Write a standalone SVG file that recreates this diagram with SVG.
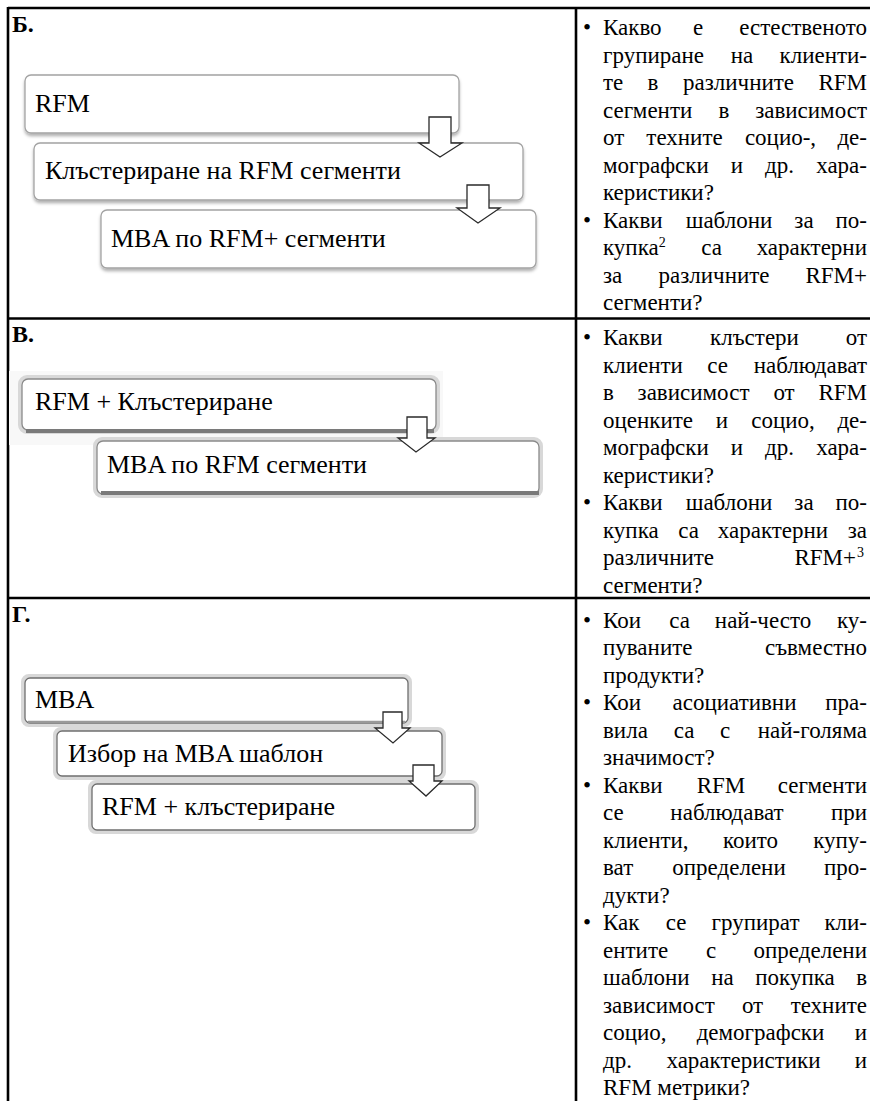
<svg xmlns="http://www.w3.org/2000/svg" width="870" height="1101" viewBox="0 0 870 1101">
<defs>
<style>
.t{font-family:"Liberation Serif","DejaVu Serif",serif;font-size:23px;fill:#000}
.e{text-anchor:end}
.m{text-anchor:middle}
.sup{font-size:14px}
.lbl{font-family:"Liberation Serif","DejaVu Serif",serif;font-size:24px;font-weight:bold;fill:#000}
.bt{font-family:"Liberation Serif","DejaVu Serif",serif;font-size:26px;fill:#000}
.box{fill:#fff;stroke:#a3a3a3;stroke-width:1.3}
.halo{fill:none;stroke:#d8d8d8;stroke-width:4}
.base{stroke:#7a7a7a;stroke-width:4;fill:none}
.grid{stroke:#000;stroke-width:2.6;fill:none}
.arr{fill:#fff;stroke:#2a2a2a;stroke-width:1.3;stroke-linejoin:miter}
</style>
<filter id="sh" x="-5%" y="-20%" width="110%" height="150%">
<feDropShadow dx="0" dy="2.5" stdDeviation="1.6" flood-color="#000" flood-opacity="0.3"/>
</filter>
</defs>
<rect width="870" height="1101" fill="#fff"/>

<g id="table">
<line class="grid" x1="8" y1="8" x2="870" y2="8"/>
<line class="grid" x1="8" y1="7" x2="8" y2="1101"/>
<line class="grid" x1="576" y1="8" x2="576" y2="1101"/>
<line class="grid" x1="8" y1="318.5" x2="870" y2="318.5"/>
<line class="grid" x1="8" y1="598" x2="870" y2="598"/>
<text class="lbl" x="12" y="32">Б.</text>
<text class="lbl" x="12" y="341.5">В.</text>
<text class="lbl" x="12" y="622">Г.</text>
</g>

<g id="section-b">
<g id="b1"><rect class="box" filter="url(#sh)" x="25" y="75" width="434" height="58" rx="6"/><text class="bt" x="35" y="112">RFM</text></g>
<g id="b2"><rect class="box" filter="url(#sh)" x="34" y="143" width="489" height="57" rx="6"/><text class="bt" x="45" y="179">Клъстериране на RFM сегменти</text></g>
<g id="b3"><rect class="box" filter="url(#sh)" x="101" y="210" width="435" height="58" rx="6"/><text class="bt" x="111" y="247">MBA по RFM+ сегменти</text></g>
</g>

<g id="section-v">
<rect x="9" y="371" width="434" height="74" fill="#f8f8f8"/>
<g id="v1"><rect class="halo" x="20" y="377" width="418" height="55" rx="7"/><rect class="box" x="22" y="379" width="414" height="51" rx="6" style="stroke:#8a8a8a"/><line class="base" x1="26" y1="431" x2="434" y2="431"/><text class="bt" x="35" y="410">RFM + Клъстериране</text></g>
<g id="v2"><rect class="halo" x="95" y="439" width="446" height="57" rx="7"/><rect class="box" x="97" y="441" width="442" height="53" rx="6" style="stroke:#8a8a8a"/><line class="base" x1="101" y1="493" x2="539" y2="493"/><text class="bt" x="107" y="473">MBA по RFM сегменти</text></g>
</g>

<g id="section-g">
<g id="g1"><rect class="halo" x="23" y="676" width="387" height="49" rx="6"/><rect class="box" x="25" y="678" width="383" height="45" rx="5" style="stroke:#6f6f6f"/><line class="base" x1="28" y1="722" x2="405" y2="722" style="stroke-width:2.5;stroke:#999"/><text class="bt" x="35" y="708">MBA</text></g>
<g id="g2"><rect class="halo" x="55" y="729" width="389" height="49" rx="6"/><rect class="box" x="57" y="731" width="385" height="45" rx="5" style="stroke:#6f6f6f"/><text class="bt" x="68" y="762">Избор на MBA шаблон</text></g>
<g id="g3"><rect class="halo" x="90" y="782" width="387" height="50" rx="6"/><rect class="box" x="92" y="784" width="383" height="46" rx="5" style="stroke:#6f6f6f"/><text class="bt" x="102" y="815">RFM + клъстериране</text></g>
</g>

<g id="connectors">
<path class="arr" d="M429,117 H451 V143 H462 L440,157 L419,143 H429 Z"/>
<path class="arr" d="M467,185 H489 V208 H500 L478,223 L457,208 H467 Z"/>
<path class="arr" d="M407,417 H427 V438 H435 L416,452 L398,438 H407 Z"/>
<path class="arr" d="M383,712 H402 V728 H410 L393,743 L375,728 H383 Z"/>
<path class="arr" d="M413,765 H434 V781 H442 L426,796 L409,781 H413 Z"/>
</g>

<g id="questions-b">
<text class="t m" x="587" y="35">•</text>
<text class="t" x="603" y="35">Какво</text><text class="t m" x="698" y="35">е</text><text class="t e" x="867" y="35">естественото</text>
<text class="t" x="603" y="62.5">групиране</text><text class="t m" x="742" y="62.5">на</text><text class="t e" x="867" y="62.5">клиенти-</text>
<text class="t" x="603" y="90">те</text><text class="t m" x="653" y="90">в</text><text class="t m" x="738.5" y="90">различните</text><text class="t e" x="867" y="90">RFM</text>
<text class="t" x="603" y="117.5">сегменти</text><text class="t m" x="724" y="117.5">в</text><text class="t e" x="867" y="117.5">зависимост</text>
<text class="t" x="603" y="145">от</text><text class="t m" x="684.5" y="145">техните</text><text class="t m" x="780.5" y="145">социо-,</text><text class="t e" x="867" y="145">де-</text>
<text class="t" x="603" y="172.5">мографски</text><text class="t m" x="737" y="172.5">и</text><text class="t m" x="779.5" y="172.5">др.</text><text class="t e" x="867" y="172.5">хара-</text>
<text class="t" x="603" y="200">керистики?</text>
<text class="t m" x="587" y="227.5">•</text>
<text class="t" x="603" y="227.5">Какви</text><text class="t m" x="729" y="227.5">шаблони</text><text class="t m" x="804" y="227.5">за</text><text class="t e" x="867" y="227.5">по-</text>
<text class="t" x="603" y="255">купка<tspan class="sup" dy="-8">2</tspan></text><text class="t m" x="711.5" y="255">са</text><text class="t e" x="867" y="255">характерни</text>
<text class="t" x="603" y="282.5">за</text><text class="t m" x="714" y="282.5">различните</text><text class="t e" x="867" y="282.5">RFM+</text>
<text class="t" x="603" y="310">сегменти?</text>
</g>

<g id="questions-v">
<text class="t m" x="587" y="345">•</text>
<text class="t" x="603" y="345">Какви</text><text class="t m" x="754.5" y="345">клъстери</text><text class="t e" x="867" y="345">от</text>
<text class="t" x="603" y="372.5">клиенти</text><text class="t m" x="717.5" y="372.5">се</text><text class="t e" x="867" y="372.5">наблюдават</text>
<text class="t" x="603" y="400">в</text><text class="t m" x="693.5" y="400">зависимост</text><text class="t m" x="784" y="400">от</text><text class="t e" x="867" y="400">RFM</text>
<text class="t" x="603" y="427.5">оценките</text><text class="t m" x="722" y="427.5">и</text><text class="t m" x="783" y="427.5">социо,</text><text class="t e" x="867" y="427.5">де-</text>
<text class="t" x="603" y="455">мографски</text><text class="t m" x="737" y="455">и</text><text class="t m" x="779.5" y="455">др.</text><text class="t e" x="867" y="455">хара-</text>
<text class="t" x="603" y="482.5">керистики?</text>
<text class="t m" x="587" y="510">•</text>
<text class="t" x="603" y="510">Какви</text><text class="t m" x="729" y="510">шаблони</text><text class="t m" x="804" y="510">за</text><text class="t e" x="867" y="510">по-</text>
<text class="t" x="603" y="537.5">купка</text><text class="t m" x="688.5" y="537.5">са</text><text class="t m" x="773" y="537.5">характерни</text><text class="t e" x="867" y="537.5">за</text>
<text class="t" x="603" y="565">различните</text><text class="t e" x="856" y="565">RFM+</text><text class="t sup" x="857" y="557">3</text>
<text class="t" x="603" y="592.5">сегменти?</text>
</g>

<g id="questions-g">
<text class="t m" x="587" y="627.5">•</text>
<text class="t" x="603" y="627.5">Кои</text><text class="t m" x="679.5" y="627.5">са</text><text class="t m" x="763" y="627.5">най-често</text><text class="t e" x="867" y="627.5">ку-</text>
<text class="t" x="603" y="655">пуваните</text><text class="t e" x="867" y="655">съвместно</text>
<text class="t" x="603" y="682.5">продукти?</text>
<text class="t m" x="587" y="710">•</text>
<text class="t" x="603" y="710">Кои</text><text class="t m" x="734.5" y="710">асоциативни</text><text class="t e" x="867" y="710">пра-</text>
<text class="t" x="603" y="737.5">вила</text><text class="t m" x="684" y="737.5">са</text><text class="t m" x="725" y="737.5">с</text><text class="t e" x="867" y="737.5">най-голяма</text>
<text class="t" x="603" y="765">значимост?</text>
<text class="t m" x="587" y="792.5">•</text>
<text class="t" x="603" y="792.5">Какви</text><text class="t m" x="721" y="792.5">RFM</text><text class="t e" x="867" y="792.5">сегменти</text>
<text class="t" x="603" y="820">се</text><text class="t m" x="727" y="820">наблюдават</text><text class="t e" x="867" y="820">при</text>
<text class="t" x="603" y="847.5">клиенти,</text><text class="t m" x="750.5" y="847.5">които</text><text class="t e" x="867" y="847.5">купу-</text>
<text class="t" x="603" y="875">ват</text><text class="t m" x="729" y="875">определени</text><text class="t e" x="867" y="875">про-</text>
<text class="t" x="603" y="902.5">дукти?</text>
<text class="t m" x="587" y="930">•</text>
<text class="t" x="603" y="930">Как</text><text class="t m" x="676" y="930">се</text><text class="t m" x="755.5" y="930">групират</text><text class="t e" x="867" y="930">кли-</text>
<text class="t" x="603" y="957.5">ентите</text><text class="t m" x="711" y="957.5">с</text><text class="t e" x="867" y="957.5">определени</text>
<text class="t" x="603" y="985">шаблони</text><text class="t m" x="722.5" y="985">на</text><text class="t m" x="795" y="985">покупка</text><text class="t e" x="867" y="985">в</text>
<text class="t" x="603" y="1012.5">зависимост</text><text class="t m" x="752.5" y="1012.5">от</text><text class="t e" x="867" y="1012.5">техните</text>
<text class="t" x="603" y="1040">социо,</text><text class="t m" x="760.5" y="1040">демографски</text><text class="t e" x="867" y="1040">и</text>
<text class="t" x="603" y="1067.5">др.</text><text class="t m" x="743.5" y="1067.5">характеристики</text><text class="t e" x="867" y="1067.5">и</text>
<text class="t" x="603" y="1095">RFM метрики?</text>
</g>
</svg>
